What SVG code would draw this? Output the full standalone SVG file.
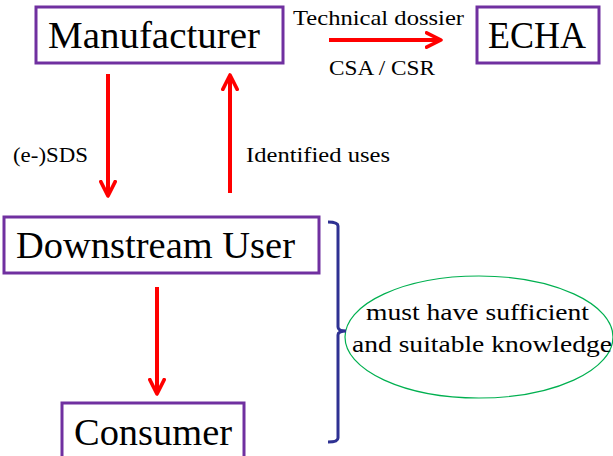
<svg xmlns="http://www.w3.org/2000/svg" width="613" height="456" viewBox="0 0 613 456">
<style>
.box{fill:#fff;stroke:#7030A0;stroke-width:3}
.big{font-family:"Liberation Serif","DejaVu Serif",serif;font-size:37px;fill:#000}
.lbl{font-family:"Liberation Serif","DejaVu Serif",serif;font-size:21px;fill:#000}
.ell{font-family:"Liberation Serif","DejaVu Serif",serif;font-size:23px;fill:#000}
.arr{stroke:#FF0000;stroke-width:4;fill:none}
</style>
<defs>
<marker id="head" viewBox="0 0 10 10" refX="9" refY="5" markerWidth="4.5" markerHeight="4.5" orient="auto" markerUnits="strokeWidth">
<polyline points="1,1 9,5 1,9" fill="none" stroke="#FF0000" stroke-width="2" stroke-linecap="round" stroke-linejoin="round"/>
</marker>
</defs>
<g id="manufacturer">
<rect class="box" x="36" y="7" width="247" height="56"/>
<text class="big" x="48" y="48" textLength="212" lengthAdjust="spacingAndGlyphs">Manufacturer</text>
</g>
<g id="echa">
<rect class="box" x="477" y="7" width="122" height="56"/>
<text class="big" x="488" y="48" textLength="98" lengthAdjust="spacingAndGlyphs">ECHA</text>
</g>
<g id="downstream">
<rect class="box" x="4" y="217" width="315" height="56"/>
<text class="big" x="16" y="258" textLength="279" lengthAdjust="spacingAndGlyphs">Downstream User</text>
</g>
<g id="consumer">
<rect class="box" x="62" y="403" width="182" height="60"/>
<text class="big" x="74" y="445" textLength="158" lengthAdjust="spacingAndGlyphs">Consumer</text>
</g>
<g id="knowledge">
<ellipse cx="479" cy="337" rx="134" ry="61" fill="none" stroke="#00B050" stroke-width="1.2"/>
<text class="ell" x="366" y="320" textLength="223" lengthAdjust="spacingAndGlyphs">must have sufficient</text>
<text class="ell" x="352" y="352" textLength="260" lengthAdjust="spacingAndGlyphs">and suitable knowledge</text>
</g>
<g id="bracket">
<path d="M328,222 Q338,222 338,226 L338,327 Q338,331 346,331 Q338,331 338,335 L338,438 Q338,442 328,442" fill="none" stroke="#2E3192" stroke-width="3"/>
</g>
<g id="connectors">
<line class="arr" x1="329" y1="40" x2="441" y2="40" marker-end="url(#head)"/>
<line class="arr" x1="108" y1="74" x2="108" y2="196" marker-end="url(#head)"/>
<line class="arr" x1="230" y1="193" x2="230" y2="75" marker-end="url(#head)"/>
<line class="arr" x1="157" y1="287" x2="157" y2="394" marker-end="url(#head)"/>
</g>
<g id="labels">
<text class="lbl" x="293" y="25" textLength="171" lengthAdjust="spacingAndGlyphs">Technical dossier</text>
<text class="lbl" x="329" y="75" textLength="106" lengthAdjust="spacingAndGlyphs">CSA / CSR</text>
<text class="lbl" x="13" y="162" textLength="75" lengthAdjust="spacingAndGlyphs">(e-)SDS</text>
<text class="lbl" x="246" y="162" textLength="144" lengthAdjust="spacingAndGlyphs">Identified uses</text>
</g>
</svg>
